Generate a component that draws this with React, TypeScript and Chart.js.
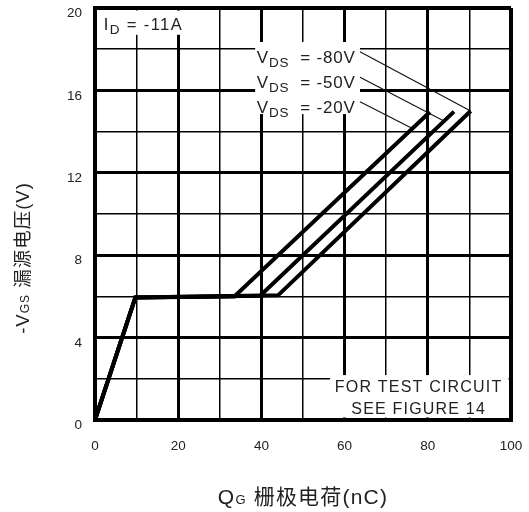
import { useEffect, useRef } from 'react';
import { Chart, registerables } from 'chart.js';

Chart.register(...registerables);

// Gate charge curves (QG in nC, -VGS in V) for each drain-source voltage
const vds20Q = [0, 9.7, 33.5, 80.5];
const vds20V = [0, 5.95, 6.0, 14.95];
const vds50Q = [0, 9.7, 39.7, 86.3];
const vds50V = [0, 5.95, 6.03, 14.97];
const vds80Q = [0, 9.7, 44.0, 90.3];
const vds80V = [0, 5.95, 6.05, 15.0];

// Leader lines from each VDS label to its curve
const leader80Q = [63.7, 90.3];
const leader80V = [17.88, 15.0];
const leader50Q = [63.7, 84.0];
const leader50V = [16.64, 14.5];
const leader20Q = [63.7, 76.3];
const leader20V = [15.45, 14.15];

const vdsLabels = ['-80V', '-50V', '-20V'];
const vdsLabelV = [17.35, 16.13, 14.92];
const idLabel = ' = -11A';
const noteLines = ['FOR TEST CIRCUIT', 'SEE FIGURE 14'];

const xTitle = [
  { t: 'Q', s: 21 },
  { t: 'G', s: 13 },
  { t: ' 栅极电荷(nC)', s: 21 },
];
const yTitle = [
  { t: '-V', s: 18.5 },
  { t: 'GS', s: 12 },
  { t: ' 漏源电压(V)', s: 18.5 },
];

const FONT = '"Liberation Sans", Arial, "Noto Sans CJK SC", sans-serif';
const TEXT = '#222';

type Part = { t: string; s: number; dy?: number };

function richWidth(ctx: CanvasRenderingContext2D, parts: Part[], spacing: number) {
  let w = 0;
  for (const p of parts) {
    ctx.font = `${p.s}px ${FONT}`;
    ctx.letterSpacing = `${spacing}px`;
    w += ctx.measureText(p.t).width;
  }
  return w;
}

function drawRich(
  ctx: CanvasRenderingContext2D,
  parts: Part[],
  x: number,
  y: number,
  align: 'left' | 'center',
  spacing = 0
) {
  let cx = align === 'center' ? x - richWidth(ctx, parts, spacing) / 2 : x;
  ctx.textAlign = 'left';
  ctx.textBaseline = 'alphabetic';
  for (const p of parts) {
    ctx.font = `${p.s}px ${FONT}`;
    ctx.letterSpacing = `${spacing}px`;
    ctx.fillText(p.t, cx, y + (p.dy || 0));
    cx += ctx.measureText(p.t).width;
  }
  ctx.letterSpacing = '0px';
}

const annotations = {
  id: 'annotations',
  beforeDatasetsDraw(chart: any) {
    const { ctx, chartArea: a } = chart;
    const xs = chart.scales.x;
    const ys = chart.scales.y;
    const box = (q0: number, q1: number, v0: number, v1: number) => {
      const l = Math.max(xs.getPixelForValue(q0), a.left + 2.5);
      const r = Math.min(xs.getPixelForValue(q1), a.right - 2.5);
      const t = Math.max(ys.getPixelForValue(v0), a.top + 2.5);
      const b = Math.min(ys.getPixelForValue(v1), a.bottom - 2.5);
      ctx.fillRect(l, t, r - l, b - t);
    };
    ctx.save();
    ctx.fillStyle = '#fff';
    box(0, 21.9, 20, 18.7);
    box(38.5, 63.7, 18.35, 14.85);
    box(56.5, 100, 2.18, 0);

    ctx.fillStyle = TEXT;
    drawRich(
      ctx,
      [
        { t: 'I', s: 16.5 },
        { t: 'D', s: 13.5, dy: 4 },
        { t: idLabel, s: 16.5 },
      ],
      xs.getPixelForValue(2.1),
      ys.getPixelForValue(18.95),
      'left',
      1.4
    );
    vdsLabels.forEach((lab, i) => {
      drawRich(
        ctx,
        [
          { t: 'V', s: 17 },
          { t: 'DS', s: 13.5, dy: 4 },
          { t: '  = ' + lab, s: 17 },
        ],
        xs.getPixelForValue(38.9),
        ys.getPixelForValue(vdsLabelV[i]),
        'left',
        0.8
      );
    });
    const nx = xs.getPixelForValue(77.8);
    drawRich(ctx, [{ t: noteLines[0], s: 16 }], nx, ys.getPixelForValue(1.34), 'center', 1.2);
    drawRich(ctx, [{ t: noteLines[1], s: 16 }], nx, ys.getPixelForValue(0.3), 'center', 1.2);
    ctx.restore();
  },
  afterDraw(chart: any) {
    const { ctx, chartArea: a } = chart;
    ctx.save();
    ctx.fillStyle = TEXT;
    drawRich(ctx, xTitle, (a.left + a.right) / 2, 504, 'center', 1.2);
    ctx.translate(29, 258);
    ctx.rotate(-Math.PI / 2);
    drawRich(ctx, yTitle, 0, 0, 'center', 1);
    ctx.restore();
  },
};

const pts = (q: number[], v: number[]) => q.map((x, i) => ({ x, y: v[i] }));

export default function App() {
  const ref = useRef<HTMLCanvasElement | null>(null);

  useEffect(() => {
    if (!ref.current) return;
    const curve = (q: number[], v: number[]) => ({
      data: pts(q, v),
      borderColor: '#000',
      borderWidth: 4,
      borderJoinStyle: 'miter' as const,
      pointRadius: 0,
      tension: 0,
    });
    const leader = (q: number[], v: number[]) => ({
      data: pts(q, v),
      borderColor: '#111',
      borderWidth: 1.1,
      pointRadius: 0,
      tension: 0,
    });
    const tickFont = { family: FONT, size: 13.5 };
    const chart = new Chart(ref.current, {
      type: 'line',
      data: {
        datasets: [
          curve(vds20Q, vds20V),
          curve(vds50Q, vds50V),
          curve(vds80Q, vds80V),
          leader(leader80Q, leader80V),
          leader(leader50Q, leader50V),
          leader(leader20Q, leader20V),
        ],
      },
      options: {
        animation: false,
        responsive: false,
        maintainAspectRatio: false,
        layout: { padding: { left: 0, top: 8, right: 18, bottom: 0 } },
        plugins: { legend: { display: false }, tooltip: { enabled: false } },
        scales: {
          x: {
            type: 'linear',
            min: 0,
            max: 100,
            ticks: {
              stepSize: 10,
              autoSkip: false,
              maxRotation: 0,
              padding: 18,
              color: TEXT,
              font: tickFont,
              callback: (v: any) => (v % 20 === 0 ? String(v) : ''),
            },
            grid: {
              drawTicks: false,
              color: '#000',
              lineWidth: (c: any) =>
                c.tick.value === 100 ? 4 : c.tick.value % 20 === 0 ? 3 : 1.5,
            },
            border: { display: true, width: 4, color: '#000', z: 1 },
            afterFit: (s: any) => {
              s.height = 92;
              s.paddingLeft = 0;
              s.paddingRight = 0;
            },
          },
          y: {
            type: 'linear',
            min: 0,
            max: 20,
            ticks: {
              stepSize: 2,
              autoSkip: false,
              padding: 13,
              labelOffset: 5.5,
              color: TEXT,
              font: tickFont,
              callback: (v: any) => (v % 4 === 0 ? String(v) : ''),
            },
            grid: {
              drawTicks: false,
              color: '#000',
              lineWidth: (c: any) =>
                c.tick.value === 20 ? 4 : c.tick.value % 4 === 0 ? 3 : 1.5,
            },
            border: { display: true, width: 4, color: '#000', z: 1 },
            afterFit: (s: any) => {
              s.width = 95;
              s.paddingTop = 0;
              s.paddingBottom = 0;
            },
          },
        },
      },
      plugins: [annotations],
    });
    return () => chart.destroy();
  }, []);

  return (
    <div style={{ position: 'absolute', left: 0, top: 0, width: 529, height: 512, background: '#fff' }}>
      <canvas ref={ref} width={529} height={512} />
    </div>
  );
}
